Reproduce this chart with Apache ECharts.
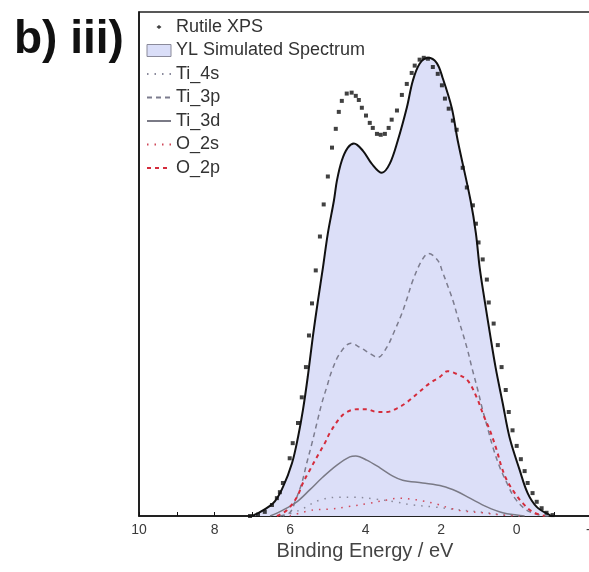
<!DOCTYPE html>
<html>
<head>
<meta charset="utf-8">
<script src="https://cdn.jsdelivr.net/npm/echarts@6/dist/echarts.min.js"></script>
<style>
  html, body { margin: 0; padding: 0; background: #fff; }
  #chart { width: 589px; height: 572px; }
</style>
</head>
<body>
<div id="chart"></div>
<script>
// Valence-band spectrum of rutile: measured XPS points, simulated spectrum and its partial contributions.
// Binding energy in eV, intensity in arbitrary units (simulated maximum = 100).

const xpsEnergy = [7.06, 6.85, 6.67, 6.48, 6.35, 6.27, 6.19, 6.01, 5.93, 5.79, 5.69, 5.58, 5.50, 5.42, 5.32, 5.21, 5.11, 5.00,
  4.89, 4.79, 4.71, 4.63, 4.50, 4.37, 4.26, 4.18, 4.10, 3.99, 3.89, 3.81, 3.70, 3.60, 3.49, 3.39, 3.31, 3.17, 3.04, 2.91,
  2.78, 2.70, 2.57, 2.46, 2.35, 2.22, 2.09, 1.98, 1.90, 1.80, 1.69, 1.59, 1.43, 1.32, 1.16, 1.08, 1.01, 0.90, 0.79, 0.74,
  0.61, 0.50, 0.40, 0.29, 0.21, 0.11, 0.00, -0.11, -0.21, -0.29, -0.42, -0.53, -0.66, -0.79, -0.95];
const xpsIntensity = [0.0, 0.3, 0.9, 2.4, 3.9, 5.2, 7.2, 12.6, 15.9, 20.3, 25.9, 32.5, 39.4, 46.4, 53.6, 61.0, 68.0, 74.1,
  80.4, 84.5, 88.2, 90.6, 92.2, 92.4, 91.7, 90.8, 89.1, 87.4, 85.8, 84.7, 83.4, 83.2, 83.4, 84.7, 86.5, 88.5, 91.9, 94.3,
  96.7, 98.3, 99.6, 100.0, 99.8, 98.0, 96.5, 94.0, 91.1, 88.9, 86.3, 84.3, 76.0, 71.7, 67.8, 63.8, 59.7, 56.0, 51.6, 46.6,
  42.0, 37.3, 32.5, 27.5, 22.7, 18.7, 15.3, 12.4, 9.8, 7.2, 5.0, 3.1, 1.7, 0.7, 0.2];

const simEnergy = [7.0, 6.45, 6.19, 5.95, 5.79, 5.66, 5.53, 5.40, 5.26, 5.13, 5.00, 4.84, 4.76, 4.63, 4.47, 4.31, 4.07,
  3.84, 3.57, 3.36, 3.15, 2.91, 2.75, 2.57, 2.35, 2.12, 1.96, 1.72, 1.56, 1.22, 1.08, 0.98, 0.85, 0.71, 0.56, 0.37, 0.19,
  -0.08, -0.29, -0.53, -0.87, -0.95];
const simIntensity = [0.0, 2.8, 6.3, 11.5, 17.2, 23.1, 30.5, 39.0, 47.1, 54.2, 61.7, 68.8, 73.2, 77.6, 80.4, 81.3, 79.7,
  76.9, 74.9, 76.9, 81.9, 89.1, 95.0, 98.7, 100.0, 98.9, 95.6, 89.1, 81.9, 68.8, 61.7, 54.2, 47.1, 39.9, 32.5, 24.6, 17.2,
  10.0, 5.0, 2.0, 0.2, 0.0];

const ti4sEnergy = [6.19, 5.74, 5.21, 4.68, 4.29, 3.76, 3.23, 2.75, 2.22, 1.69, 1.24, 0.79, 0.32, -0.08];
const ti4sIntensity = [0.0, 1.3, 3.5, 4.1, 4.1, 3.7, 3.1, 2.4, 2.0, 1.5, 1.1, 0.7, 0.2, 0.0];

const ti3pEnergy = [6.27, 6.01, 5.87, 5.69, 5.56, 5.42, 5.29, 5.16, 5.03, 4.89, 4.68, 4.39, 4.15, 3.89, 3.68, 3.44, 3.23,
  3.04, 2.91, 2.75, 2.51, 2.33, 2.09, 1.96, 1.83, 1.69, 1.56, 1.43, 1.30, 1.19, 1.03, 0.90, 0.77, 0.63, 0.45, 0.26, 0.05,
  -0.26, -0.61, -0.87];
const ti3pIntensity = [0.0, 0.7, 3.1, 7.2, 11.5, 15.9, 20.3, 24.6, 28.1, 31.8, 35.5, 37.7, 36.8, 35.5, 34.6, 36.8, 40.5,
  44.2, 47.3, 51.4, 55.8, 57.3, 55.8, 53.2, 50.3, 47.1, 43.4, 39.9, 36.2, 32.5, 27.5, 23.1, 19.2, 15.0, 10.7, 7.2, 3.9,
  1.3, 0.2, 0.0];

const ti3dEnergy = [6.53, 6.19, 5.82, 5.48, 5.13, 4.76, 4.42, 4.26, 3.97, 3.62, 3.28, 3.02, 2.49, 1.96, 1.59, 1.24, 0.79,
  0.37, 0.0, -0.21];
const ti3dIntensity = [0.0, 1.3, 3.1, 5.7, 8.5, 11.1, 12.9, 13.1, 12.2, 10.5, 8.7, 7.8, 7.2, 6.5, 5.4, 3.9, 2.0,
  0.7, 0.2, 0.0];

const o2sEnergy = [6.01, 5.40, 4.95, 4.50, 3.89, 3.44, 3.10, 2.83, 2.49, 2.12, 1.77, 1.43, 0.90, 0.37, -0.08];
const o2sIntensity = [0.0, 1.3, 1.5, 2.0, 2.8, 3.5, 3.9, 3.7, 3.3, 2.6, 1.7, 1.1, 0.7, 0.2, 0.0];

const o2pEnergy = [6.35, 6.08, 5.82, 5.66, 5.48, 5.26, 5.08, 4.95, 4.68, 4.50, 4.23, 3.97, 3.70, 3.44, 3.17, 2.91, 2.62,
  2.30, 2.04, 1.83, 1.56, 1.30, 1.06, 0.87, 0.71, 0.53, 0.40, 0.26, 0.05, -0.16, -0.42, -0.74];
const o2pIntensity = [0.0, 1.3, 4.1, 7.2, 10.0, 13.3, 15.9, 18.1, 21.4, 22.7, 23.3, 23.3, 22.7, 22.7, 23.5, 24.8, 26.8,
  29.0, 30.3, 31.6, 30.9, 29.6, 25.9, 21.8, 18.7, 14.4, 10.7, 7.8, 5.0, 2.8, 0.9, 0.0];

const energyTicks = [-3, 10, 1];   // axis min, max, step (eV)
const legendNames = ['Rutile XPS', 'YL Simulated Spectrum', 'Ti_4s', 'Ti_3p', 'Ti_3d', 'O_2s', 'O_2p'];

const pairs = (xs, ys) => xs.map((x, i) => [x, ys[i]]);

// Tiny diamond framed by invisible corner points so the legend icon keeps it small.
const dotIcon = 'path://M0,0L0.01,0Z M24,12L24.01,12Z M12,4L14.5,6L12,8L9.5,6Z';

const chart = echarts.init(document.getElementById('chart'), null, { renderer: 'canvas' });

const lineSeries = (name, xs, ys, color, width, type, z) => ({
  name, type: 'line', data: pairs(xs, ys), smooth: 0.35, symbol: 'none', z,
  lineStyle: { color, width, type }, itemStyle: { color }
});

// Line entries in the legend show only the stroke pattern, no marker.
const lineLegend = name => ({ name, itemStyle: { opacity: 0 } });

chart.setOption({
  animation: false,
  backgroundColor: '#ffffff',
  grid: {
    left: 139, top: 12, width: 491, height: 504, outerBoundsMode: 'none', containLabel: false,
    show: true, borderColor: '#222', borderWidth: 1.5, backgroundColor: 'transparent'
  },
  xAxis: {
    type: 'value', inverse: true,
    min: energyTicks[0], max: energyTicks[1], interval: energyTicks[2],
    axisLine: { show: true, onZero: false, lineStyle: { color: '#111', width: 1.5 } },
    axisTick: { show: true, inside: true, length: 4, lineStyle: { color: '#111', width: 1 } },
    axisLabel: {
      color: '#3a3a3a', fontSize: 14, fontFamily: 'Liberation Sans, Arial, sans-serif', margin: 7,
      formatter: v => (Math.round(v) % 2 === 0 && v > energyTicks[0]) ? String(v) : ''
    },
    splitLine: { show: false }
  },
  yAxis: {
    type: 'value', min: 0, max: 110,
    axisLine: { show: true, onZero: false, lineStyle: { color: '#111', width: 1.5 } },
    axisTick: { show: false }, axisLabel: { show: false }, splitLine: { show: false }
  },
  legend: {
    orient: 'vertical', left: 146, top: 18, padding: 0,
    itemWidth: 24, itemHeight: 12, itemGap: 5.5,
    textStyle: { fontSize: 18, color: '#333', fontFamily: 'Liberation Sans, Arial, sans-serif' },
    data: [
      { name: legendNames[0], icon: dotIcon },
      { name: legendNames[1], icon: 'rect', itemStyle: { color: '#dadef8', borderColor: '#8a8a9a', borderWidth: 1 } },
      lineLegend(legendNames[2]), lineLegend(legendNames[3]), lineLegend(legendNames[4]),
      lineLegend(legendNames[5]), lineLegend(legendNames[6])
    ]
  },
  series: [
    {
      name: legendNames[1], type: 'line', data: pairs(simEnergy, simIntensity), smooth: 0.35, symbol: 'none', z: 1,
      lineStyle: { color: '#111', width: 2 }, itemStyle: { color: '#dadef8' },
      areaStyle: { color: '#dcdff8', opacity: 1 }
    },
    lineSeries(legendNames[2], ti4sEnergy, ti4sIntensity, '#8a8a9c', 1.5, [1.5, 6], 3),
    lineSeries(legendNames[3], ti3pEnergy, ti3pIntensity, '#7c7c8e', 1.5, [5, 4], 3),
    lineSeries(legendNames[4], ti3dEnergy, ti3dIntensity, '#7a7a86', 1.5, 'solid', 3),
    lineSeries(legendNames[5], o2sEnergy, o2sIntensity, '#d0485a', 1.5, [1.5, 6], 3),
    lineSeries(legendNames[6], o2pEnergy, o2pIntensity, '#d42c3c', 2, [4, 4], 3),
    {
      name: legendNames[0], type: 'scatter', data: pairs(xpsEnergy, xpsIntensity), z: 5,
      symbol: 'rect', symbolSize: 4, itemStyle: { color: '#111' }
    }
  ],
  graphic: [
    {
      type: 'text', left: 14, top: 17, z: 10,
      style: { text: 'b) iii)', fontSize: 46, fontWeight: 'bold', fill: '#111', fontFamily: 'Liberation Sans, Arial, sans-serif' }
    },
    {
      type: 'text', x: 365, y: 551, z: 10,
      style: { text: 'Binding Energy / eV', fontSize: 20, fill: '#444', align: 'center', verticalAlign: 'middle',
               fontFamily: 'Liberation Sans, Arial, sans-serif' }
    }
  ]
});
</script>
</body>
</html>
